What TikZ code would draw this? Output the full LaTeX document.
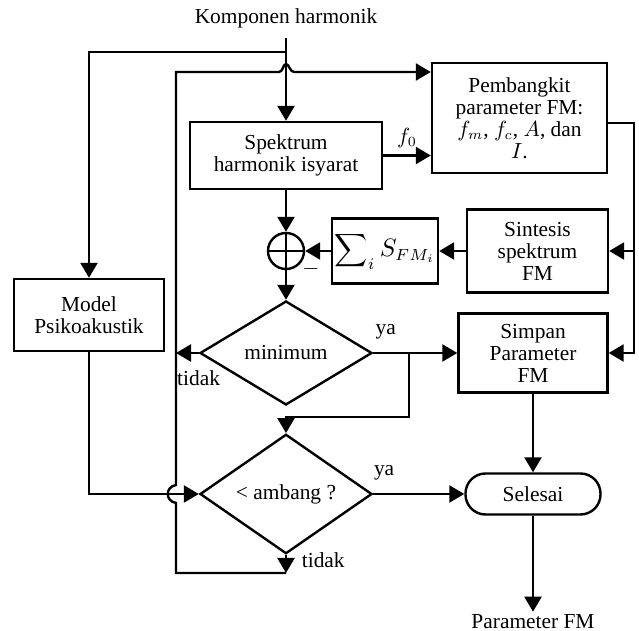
\documentclass[tikz,border=0pt]{standalone}
\usepackage{fontspec}
\setmainfont{Liberation Serif}
\usetikzlibrary{positioning,shapes.geometric,arrows.meta}

\begin{document}
\begin{tikzpicture}[
    x=0.5pt, y=-0.5pt, line width=1.2pt,
    font=\fontsize{10.7}{11}\selectfont,
    flow/.style={-{Triangle[length=7.5pt,width=8.5pt]}},
    block/.style={rectangle, draw, align=center, inner sep=1pt},
    decide/.style={diamond, draw, inner sep=0, minimum width=86pt, minimum height=52pt},
  ]
  \useasboundingbox (0,0) rectangle (639,631);

  \node (komp) at (286,18) {Komponen harmonik};
  \coordinate (kin) at (286,38);
  \coordinate (ksplit) at (286,52);

  \node[block, minimum width=96pt, minimum height=33.5pt] (spek) at (286,155.5) {Spektrum\\harmonik isyarat};
  \node[block, minimum width=87.5pt, minimum height=55pt] (pemb) at (519.5,118) {Pembangkit\\parameter FM:\\$f_m$, $f_c$, $A$, dan\\$I$.};
  \draw[flow] (spek.east) -- node[above, midway] {$f_0$} (spek.east -| pemb.west);

  \node[circle, draw, minimum size=18pt, inner sep=0] (sum) at (286,251) {};
  \draw (sum.north) -- (sum.south) (sum.west) -- (sum.east);
  \node (minus) at (311,269) {$-$};
  \node[block, minimum width=53pt, minimum height=32.5pt] (sigma) at (385,251) {\scalebox{1.15}{$\displaystyle\sum\nolimits_i S_{FM_i}$}};
  \node[block, minimum width=70.5pt, minimum height=41.5pt] (sint) at (537.5,251) {Sintesis\\spektrum\\FM};

  \node[block, minimum width=75pt, minimum height=36pt] (model) at (89,315) {Model\\Psikoakustik};
  \node[decide] (mini) at (286,353) {minimum};
  \node[block, minimum width=74.5pt, minimum height=39.5pt] (simpan) at (533,353) {Simpan\\Parameter\\FM};

  \node[decide] (amb) at (286,494) {< ambang ?};
  \node[draw, rounded corners=10pt, minimum width=67.5pt, minimum height=20.5pt] (sel) at (533,494) {Selesai};
  \node[inner sep=1pt] (param) at (533,622) {Parameter FM};

  \coordinate (ltop) at (176,72);
  \coordinate (bot) at (286,573);
  \coordinate (ybr) at (409,353);
  \coordinate (rbus) at (634,0);

  % input
  \draw[flow] (kin) -- (spek.north);
  \draw[flow] (ksplit) -| (model.north);

  % summing
  \draw[flow] (spek.south) -- (sum.north);
  \draw[flow] (sint.west) -- (sigma.east);
  \draw[flow] (sigma.west) -- (sum.east);
  \draw[flow] (sum.south) -- (mini.north);

  % FM parameter bus on the right
  \draw[flow] ([yshift=-2.5pt]pemb.east) -| (rbus |- simpan.east) -- (simpan.east);
  \draw[flow] (rbus |- sint.east) -- (sint.east);

  % decisions
  \draw[flow] (mini.west) -- node[anchor=north west, at end, yshift=-8pt, inner sep=0] {tidak} (mini.west -| ltop);
  \draw[flow] (mini.east) -- node[above=3pt, pos=0.15] {ya} (simpan.west);
  \draw[flow] (ybr) -- ++(0,64) -| (amb.north);
  \draw[flow] (model.south) |- (amb.west);
  \draw[flow] (amb.east) -- node[above=3pt, pos=0.12] {ya} (sel.west);
  \draw[flow] (amb.south) -- node[right=4pt, pos=0.3] {tidak} (bot);

  % loop back to the generator
  \draw[flow] (bot) -- (bot -| ltop) -- (176,503) .. controls (165,501) and (165,487) .. (176,485) -- (ltop)
    -- (279,72) .. controls (283,72) and (283,64) .. (286,64) .. controls (289,64) and (290,72) .. (294,72) -- (ltop -| pemb.west);

  % output
  \draw[flow] (simpan.south) -- (sel.north);
  \draw[flow] (sel.south) -- (param.north);

\end{tikzpicture}
\end{document}
